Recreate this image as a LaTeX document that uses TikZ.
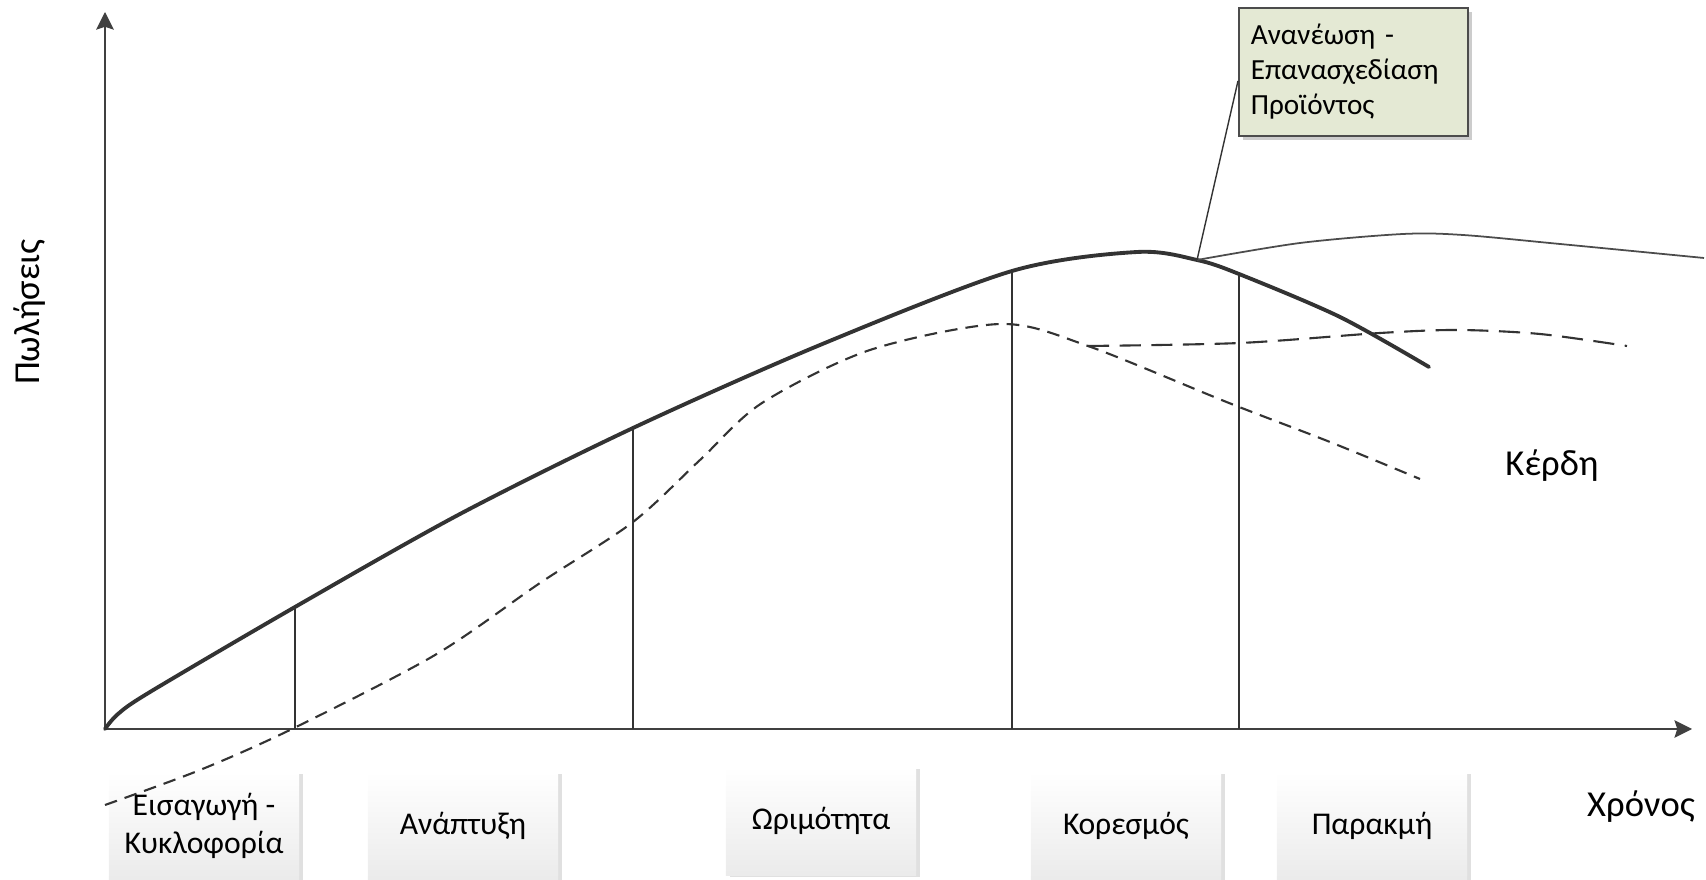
\documentclass[tikz,border=0pt]{standalone}
\usepackage{fontspec}
\setmainfont{Carlito}
\usetikzlibrary{arrows.meta,positioning,shadows,calc}
\definecolor{calloutfill}{RGB}{228,233,212}

\begin{document}
\begin{tikzpicture}[x=0.01cm,y=-0.01cm,
	stage/.style	={rectangle,inner sep=0pt,minimum width=1.9cm,minimum height=1.08cm,align=center,
		top color=white,bottom color=black!8,
		drop shadow={shadow xshift=1.2pt,shadow yshift=-0.5pt,opacity=.12,fill=black},
		font=\fontsize{9}{10.9}\selectfont},
	callout/.style	={rectangle,draw=black!70,line width=0.5pt,fill=calloutfill,inner xsep=0.12cm,
		minimum width=2.29cm,minimum height=1.28cm,text width=2.05cm,align=left,
		drop shadow={shadow xshift=1.2pt,shadow yshift=-1.2pt,opacity=.2,fill=black},
		font=\fontsize{8.3}{10}\selectfont},
	axistext/.style	={inner sep=0pt,font=\fontsize{10.4}{12}\selectfont},
	axis/.style		={-{Stealth[length=5pt,width=5pt,inset=0.8pt]}, line width=0.6pt, draw=black!75},
	guide/.style	={line width=0.4pt, draw=black!80},
	sales/.style	={line width=1.1pt, draw=black!80, line cap=round},
	extension/.style={line width=0.5pt, draw=black!70},
	profit/.style	={line width=0.6pt, draw=black!80, dash pattern=on 3.6pt off 2.3pt},
	relaunch/.style	={line width=0.6pt, draw=black!80, dash pattern=on 6pt off 3pt},
	]
	
	\useasboundingbox (0,0) rectangle (1706,880);
	
	% stages
	\node [stage] (IK) at (204,826) {Εισαγωγή -\\Κυκλοφορία};
	\node [stage] (AN) at (463,826) {Ανάπτυξη};
	\node [stage] (OR) at (821,821) {Ωριμότητα};
	\node [stage] (KO) at (1126,826) {Κορεσμός};
	\node [stage] (PA) at (1372,826) {Παρακμή};
	
	% axes
	\coordinate (O) at (105,729);
	\coordinate (Ytop) at (105,12);
	\coordinate (Xend) at (1692,729);
	\draw [axis] (O) -- (Ytop);
	\draw [axis] (O) -- (Xend);
	
	\node [axistext, rotate=90] (PO) at (30,312) {Πωλήσεις};
	\node [axistext] (XR) at (1641,807) {Χρόνος};
	\node [axistext] (KE) at (1552,466) {Κέρδη};
	
	% sales curve
	\coordinate (S1) at (295,607);
	\coordinate (S2) at (633,428);
	\coordinate (S3) at (1012,271);
	\coordinate (S4) at (1239,274);
	\coordinate (R) at (1197,260);
	\draw [sales] plot [smooth] coordinates {(O) (118,714) (150,692) (S1) (460,514) (S2) (820,345) (S3) (1137,252) (R) (S4) (1340,317) (1429,367)};
	\draw [extension] plot [smooth] coordinates {(R) (1300,243) (1403,234) (1463,235) (1560,244) (1704,258)};
	
	\foreach \s in {S1, S2, S3, S4}
	\draw [guide] (\s) -- (\s |- O);
	
	% profit curve
	\coordinate (P) at (1088,346);
	\draw [profit] plot [smooth] coordinates {(105,805) (200,770) (292,729) (435,655) (540,583) (633,522) (700,460) (762,403) (870,350) (1001,324) (P) (1229,403) (1330,442) (1420,479)};
	\draw [relaunch] plot [smooth] coordinates {(P) (1240,343) (1380,333) (1458,330) (1540,334) (1627,346)};
	
	% relaunch note
	\node [callout, anchor=north west] (RE) at (1238,7) {Ανανέωση -\\Επανασχεδίαση\\Προϊόντος};
	\draw [guide] (R) -- ($(RE.west)+(0,9)$);
\end{tikzpicture}
\end{document}
